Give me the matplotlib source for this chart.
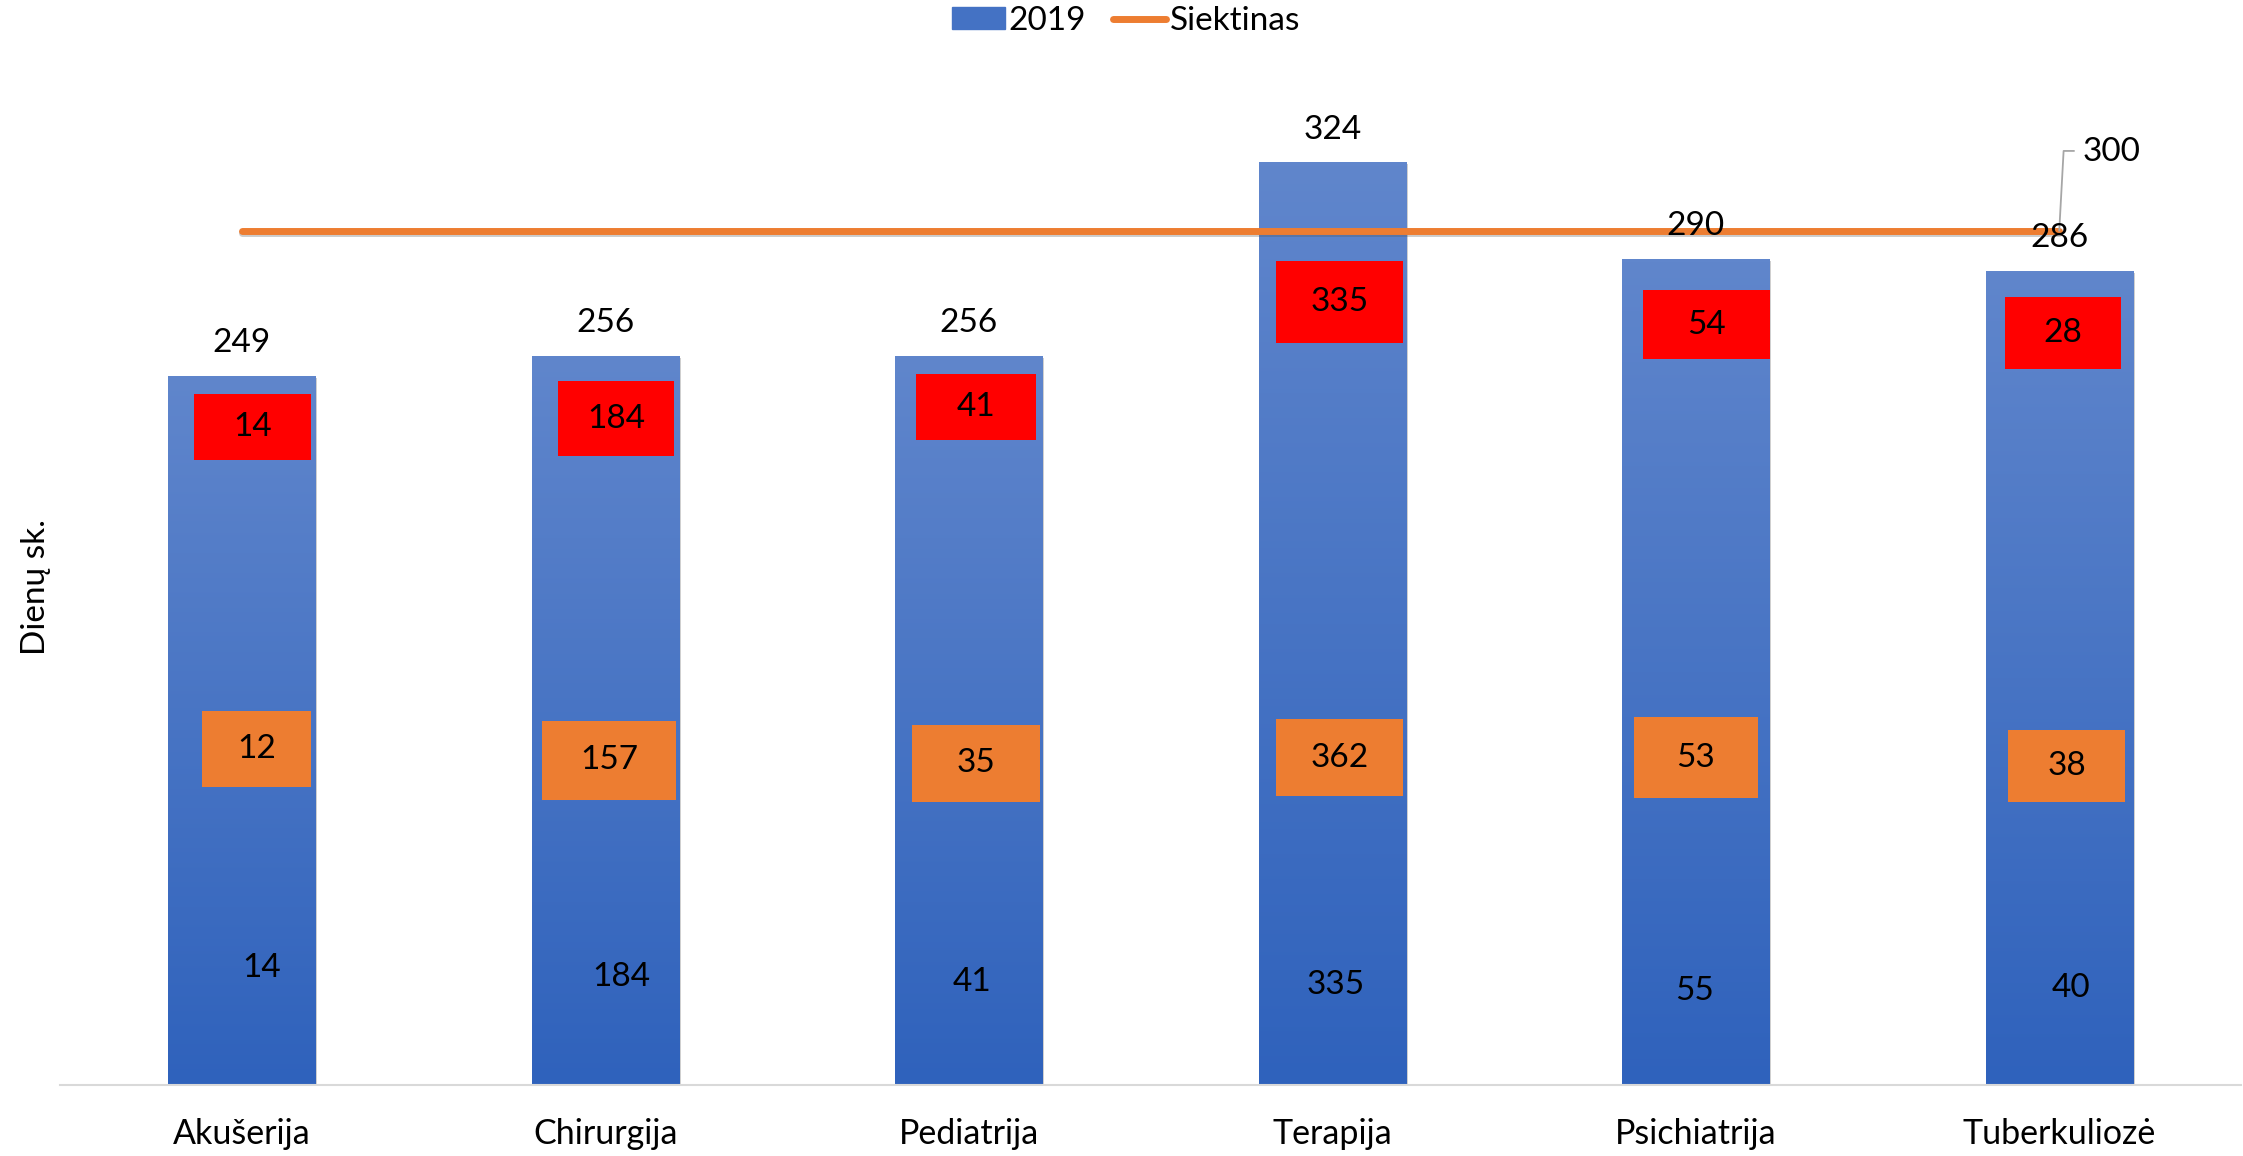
import numpy as np
import matplotlib
matplotlib.use('Agg')
import matplotlib.pyplot as plt
import matplotlib.patches as mpatches
import matplotlib.patheffects as pe
from matplotlib.colors import LinearSegmentedColormap
from matplotlib.lines import Line2D

plt.rcParams['font.family'] = ['Lato', 'DejaVu Sans']

# data
categories = ['Akušerija', 'Chirurgija', 'Pediatrija', 'Terapija', 'Psichiatrija', 'Tuberkuliozė']
values_2019 = [249, 256, 256, 324, 290, 286]
target = [300, 300, 300, 300, 300, 300]
red_labels = [14, 184, 41, 335, 54, 28]
orange_labels = [12, 157, 35, 362, 53, 38]
inner_labels = [14, 184, 41, 335, 55, 40]

# where the extra labels sit (data units)
red_y = [231, 234, 238, 275, 267, 264]
red_dx = [0.03, 0.03, 0.02, 0.02, 0.03, 0.01]
red_w = [0.32, 0.32, 0.33, 0.35, 0.35, 0.32]
red_h = [23, 26.5, 23, 29, 24, 25.5]
orange_y = [118, 114, 113, 115, 115, 112]
orange_dx = [0.04, 0.01, 0.02, 0.02, 0.0, 0.02]
orange_w = [0.30, 0.37, 0.35, 0.35, 0.34, 0.32]
orange_h = [27, 27.5, 27, 27, 28.5, 25.5]
inner_y = [41, 38, 36, 35, 33, 34]
inner_dx = [0.055, 0.043, 0.008, 0.008, -0.004, 0.031]

BLUE_TOP = '#6086cc'
BLUE_BOT = '#2f62bc'
ORANGE = '#ed7d31'
RED = '#ff0000'
FS = 24

fig = plt.figure(figsize=(22.43, 11.56), dpi=100)
ax = fig.add_axes([60 / 2243, 71 / 1156, 2181 / 2243, 1085 / 1156])

x = np.arange(len(categories))
bars = ax.bar(x, values_2019, width=0.405, color=BLUE_BOT, zorder=2,
              path_effects=[pe.SimplePatchShadow(offset=(1.5, -1.5), shadow_rgbFace='#777777', alpha=0.35),
                            pe.Normal()])

# gradient fill for each bar
cmap = LinearSegmentedColormap.from_list('bluegrad', [BLUE_BOT, BLUE_TOP])
grad = np.linspace(0, 1, 256).reshape(-1, 1)
for rect in bars:
    x0, w, h = rect.get_x(), rect.get_width(), rect.get_height()
    im = ax.imshow(grad, extent=(x0, x0 + w, 0, h), origin='lower', aspect='auto',
                   cmap=cmap, zorder=2.1)
    im.set_clip_path(rect)

# target line
ax.plot(x, target, color=ORANGE, lw=5, solid_capstyle='round', zorder=3,
        path_effects=[pe.SimpleLineShadow(offset=(0, -2), shadow_color='#555555', alpha=0.3), pe.Normal()])

# value labels on top
for i, v in enumerate(values_2019):
    ax.text(x[i], v + 11.5, str(v), ha='center', va='center', fontsize=FS, zorder=5)

# 300 label with leader line
ax.plot([x[-1] + 0.04, x[-1] + 0.012, x[-1]], [target[-1] + 28, target[-1] + 28, target[-1]],
        color='#a6a6a6', lw=1.3, zorder=4)
ax.text(x[-1] + 0.143, target[-1] + 27.5, str(target[-1]), ha='center', va='center', fontsize=FS, zorder=5)

# red boxes
for i, lab in enumerate(red_labels):
    cx = x[i] + red_dx[i]
    ax.add_patch(mpatches.Rectangle((cx - red_w[i] / 2, red_y[i] - red_h[i] / 2), red_w[i], red_h[i],
                                    facecolor=RED, edgecolor='none', zorder=4))
    ax.text(cx, red_y[i], str(lab), ha='center', va='center', fontsize=FS, zorder=5)

# orange boxes
for i, lab in enumerate(orange_labels):
    cx = x[i] + orange_dx[i]
    ax.add_patch(mpatches.Rectangle((cx - orange_w[i] / 2, orange_y[i] - orange_h[i] / 2), orange_w[i], orange_h[i],
                                    facecolor=ORANGE, edgecolor='none', zorder=4))
    ax.text(cx, orange_y[i], str(lab), ha='center', va='center', fontsize=FS, zorder=5)

# labels inside the bars
for i, lab in enumerate(inner_labels):
    ax.text(x[i] + inner_dx[i], inner_y[i], str(lab), ha='center', va='center', fontsize=FS, zorder=5)

ax.set_xlim(-0.5, 5.5)
ax.set_ylim(0, 381)
ax.set_xticks(x)
ax.set_xticklabels(categories, fontsize=FS + 0.5)
ax.tick_params(axis='x', length=0, pad=24)
ax.set_yticks([])
for s in ['top', 'right', 'left']:
    ax.spines[s].set_visible(False)
ax.spines['bottom'].set_color('#d9d9d9')
ax.spines['bottom'].set_linewidth(1.5)
ax.set_ylabel('Dienų sk.', fontsize=FS)
ax.yaxis.set_label_coords(-0.004, 0.459)

handles = [mpatches.Patch(color='#4472c4', label='2019'),
           Line2D([0], [0], color=ORANGE, lw=5, solid_capstyle='round', label='Siektinas')]
fig.legend(handles=handles, loc='center', bbox_to_anchor=(0.502, 1 - 21 / 1156), ncol=2, frameon=False,
           fontsize=FS, handlelength=1.6, handleheight=0.65, handletextpad=0.1, columnspacing=0.8)

fig.savefig('out.png', dpi=100)
